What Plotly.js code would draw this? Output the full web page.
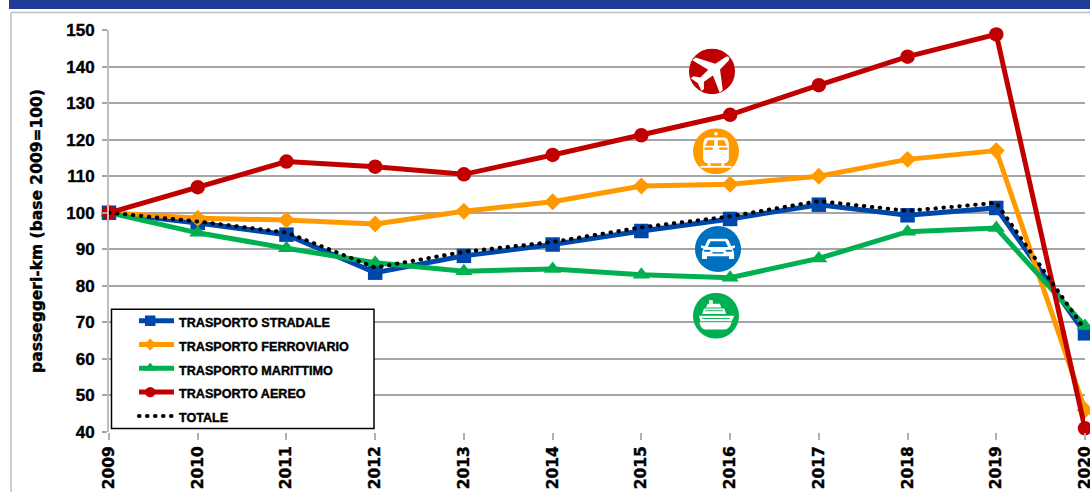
<!DOCTYPE html>
<html>
<head>
<meta charset="utf-8">
<script src="https://cdn.plot.ly/plotly-3.0.1.min.js"></script>
<style>
html,body{margin:0;padding:0;background:#fff;overflow:hidden}
#chart{width:1090px;height:492px}
path.js-line[style*="dasharray"]{stroke-linecap:round}
.ytick text,.xtick text,.legendtext,.ytitle{stroke:#000;stroke-width:.4px}
.legend .scatterpts{transform-box:fill-box;transform-origin:center;scale:.72}
</style>
</head>
<body>
<div id="chart"></div>
<script>
const years = ['2009','2010','2011','2012','2013','2014','2015','2016','2017','2018','2019','2020'];
const yTicks = [40,50,60,70,80,90,100,110,120,130,140,150];

const aereo      = [100,107,114,112.6,110.5,115.8,121.2,126.8,134.9,142.7,148.8,41];
const ferroviario= [100,98.5,98,96.9,100.4,103,107.3,107.8,110,114.6,117,46];
const marittimo  = [100,94.5,90.3,86.3,84,84.6,83,82.2,87.5,94.8,95.8,69];
const stradale   = [100,97.2,94,83.6,88.2,91.3,95,98.3,102.2,99.3,101.3,67];
const totale     = [100,97.6,94.6,85,89.3,92,96,99,103.2,100.5,102.7,68];

const names = ['TRASPORTO STRADALE','TRASPORTO FERROVIARIO','TRASPORTO MARITTIMO','TRASPORTO AEREO','TOTALE'];
const colors = ['#0047AB','#FF9900','#00B050','#C00000','#000000'];
const W = 1090, H = 492;

const svgIcon = (bg, body) => 'data:image/svg+xml;base64,' + btoa(
  '<svg xmlns="http://www.w3.org/2000/svg" viewBox="0 0 100 100" width="200" height="200">' +
  '<circle cx="50" cy="50" r="50" fill="' + bg + '"/>' + body + '</svg>');

const planeIcon = svgIcon('#C00000',
  '<g fill="#fff" transform="rotate(50 50 50)"><path d="M45 6 Q50 -2 55 6 L58 34 L96 58 L96 67 L58 54 L56 78 L68 88 L68 95 L50 90 L32 95 L32 88 L44 78 L42 54 L4 67 L4 58 L42 34 Z"/></g>');
const trainIcon = svgIcon('#FF9900',
  '<g fill="#fff"><circle cx="50" cy="12" r="4"/><path d="M30 20 L70 20 Q76 22 78 34 L78 68 Q76 76 68 76 L32 76 Q24 76 22 68 L22 34 Q24 22 30 20Z"/><rect x="16" y="82" width="68" height="4"/><rect x="32" y="76" width="6" height="7"/><rect x="62" y="76" width="6" height="7"/></g>' +
  '<g fill="#FF9900"><path d="M32 26 L46 26 L46 38 L27 38Z"/><path d="M54 26 L68 26 L73 38 L54 38Z"/><rect x="25" y="42" width="18" height="5"/><rect x="57" y="42" width="18" height="5"/></g>');
const carIcon = svgIcon('#0070C0',
  '<path fill="#fff" d="M32 28 L68 28 Q72 28 75 36 L79 44 L87 42 L87 47 L81 50 Q85 54 85 60 L85 72 L74 72 L74 66 L26 66 L26 72 L15 72 L15 60 Q15 54 19 50 L13 47 L13 42 L21 44 L25 36 Q28 28 32 28Z"/>' +
  '<path fill="#0070C0" d="M34 33 L66 33 L72 46 L28 46Z"/><rect fill="#0070C0" x="20" y="52" width="13" height="4"/><rect fill="#0070C0" x="67" y="52" width="13" height="4"/><rect fill="#0070C0" x="38" y="57" width="24" height="3"/>');
const shipIcon = svgIcon('#00B050',
  '<g fill="#fff"><rect x="35" y="16" width="8" height="8"/><path d="M32 24 L58 24 L62 32 L28 32Z"/><path d="M24 34 L68 34 L72 46 L20 46Z"/><path d="M13 50 L90 50 L84 62 L16 62Z"/><path d="M14 64 L84 64 Q80 78 70 80 L26 80 Q16 78 14 64Z"/></g>' +
  '<g fill="#00B050"><rect x="27" y="38" width="38" height="2"/><rect x="20" y="55" width="60" height="2"/></g>');

const series = [stradale, ferroviario, marittimo, aereo];
const symbols = ['square','diamond','triangle-up','circle'];
const sizes = [14.5,13,15,14.5];

const traces = series.map((vals,i) => ({
  type:'scatter', mode:'lines+markers', x:years, y:vals,
  name:'<span style="font-size:12.6px">'+names[i]+'</span>',
  line:{color:colors[i], width:5, shape:'linear'},
  marker:{symbol:symbols[i], size:sizes[i], color:colors[i]},
  cliponaxis:false, hoverinfo:'x+y'
}));
traces.push({
  type:'scatter', mode:'lines', x:years, y:totale,
  name:'<span style="font-size:12.6px">'+names[4]+'</span>',
  line:{color:colors[4], width:4, dash:'0.5px,7.5px'},
  cliponaxis:false, hoverinfo:'x+y'
});

const px = (x,y,w,h) => ({xref:'paper',yref:'paper',x:(x-109)/976,y:(432.5-y)/403,sizex:w/976,sizey:h/403,xanchor:'left',yanchor:'top',sizing:'stretch',layer:'above'});
const img = (src,cx,cy) => Object.assign({source:src}, px(cx-23,cy-23,46,46));

const layout = {
  width:W, height:H,
  paper_bgcolor:'#fff', plot_bgcolor:'rgba(0,0,0,0)',
  margin:{l:109,r:5,t:29.5,b:59.5,pad:0},
  showlegend:true,
  legend:{
    x:(134-109)/976, y:(432.5-304)/403, xanchor:'left', yanchor:'top',
    bgcolor:'rgba(0,0,0,0)', borderwidth:0,
    itemwidth:35, itemclick:false, itemdoubleclick:false,
    font:{family:'"Liberation Sans",sans-serif', size:16, color:'#000', weight:700},
    traceorder:'normal'
  },
  xaxis:{
    type:'category', categoryorder:'array', categoryarray:years,
    range:[0,11], tickvals:years, ticktext:years,
    showgrid:false, zeroline:false, showline:false,
    ticks:'outside', ticklen:7, tickwidth:1.5, tickcolor:'#b0b0b0',
    tickangle:-90,
    tickfont:{family:'"DejaVu Sans",sans-serif', size:15.5, color:'#000', weight:700}
  },
  yaxis:{
    range:[40,150], tickvals:yTicks, ticktext:yTicks.map(String),
    showgrid:true, gridcolor:'#a6a6a6', gridwidth:1.5, zeroline:false,
    showline:true, linecolor:'#bfbfbf', linewidth:2,
    ticks:'outside', ticklen:5, tickwidth:1.5, tickcolor:'#a6a6a6',
    ticklabelstandoff:4,
    tickfont:{family:'"Liberation Sans",sans-serif', size:17, color:'#000', weight:700},
    automargin:false,
    title:{text:'passeggeri-km (base 2009=100)', standoff:20,
      font:{family:'"DejaVu Sans",sans-serif', size:15.5, color:'#000', weight:700}}
  },
  shapes:[
    {type:'rect',xref:'paper',yref:'paper',layer:'below',
      x0:-100/976,x1:(1090-109)/976,y0:(432.5-8.5)/403,y1:(432.5+1)/403*1.1,
      fillcolor:'#1F3C96',line:{width:0}},
    {type:'line',xref:'paper',yref:'paper',layer:'below',x0:-98/976,x1:(1090-109)/976,y0:(432.5-12)/403,y1:(432.5-12)/403,line:{color:'#bdbdbd',width:1.5}},
    {type:'line',xref:'paper',yref:'paper',layer:'below',x0:-98/976,x1:-98/976,y0:(432.5-12)/403,y1:(432.5-495)/403,line:{color:'#bdbdbd',width:1.5}},
    {type:'rect',xref:'paper',yref:'paper',layer:'above',
      x0:(111.5-109)/976,x1:(374-109)/976,y0:(432.5-429)/403,y1:(432.5-309.5)/403,
      fillcolor:'#fff',line:{color:'#000',width:1.5}}
  ],
  images:[img(planeIcon,712,71), img(trainIcon,716,151), img(carIcon,718,249), img(shipIcon,716,316)]
};

Plotly.newPlot('chart', traces, layout, {displayModeBar:false, responsive:false});
</script>
</body>
</html>
